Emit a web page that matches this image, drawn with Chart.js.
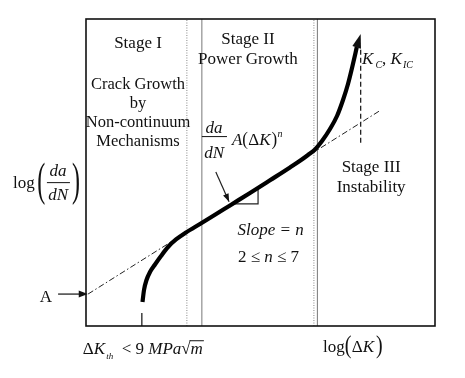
<!DOCTYPE html>
<html><head><meta charset="utf-8">
<script src="https://cdn.jsdelivr.net/npm/chart.js@4.4.1/dist/chart.umd.min.js"></script>
<style>html,body{margin:0;padding:0;background:#fff}#wrap{width:465px;height:378px;position:relative}</style>
</head><body><div id="wrap"><canvas id="c"></canvas></div>
<script>
// ---- data (arbitrary log units: x = log(ΔK), y = log(da/dN)) ----
const curveX = [1.619,1.662,1.734,1.834,1.977,2.149,2.350,2.579,2.865,3.266,3.696,4.126,4.699,5.272,5.845,6.132,6.361,6.562,6.762,6.991,7.192,7.364,7.507,7.622,7.722,7.759,7.871];
const curveY = [0.782,1.173,1.498,1.759,2.003,2.280,2.573,2.818,3.046,3.322,3.622,3.928,4.332,4.746,5.163,5.381,5.570,5.749,6.026,6.417,6.840,7.362,7.883,8.404,8.893,9.088,9.511];
const powerLawX = [0.06, 8.42];
const powerLawY = [1.042, 7.013];
const stageDottedX = [2.89, 6.53];
const stageSolidX = [3.32, 6.63];
const kcX = [7.87, 7.87];
const kcY = [5.97, 9.10];
const thresholdX = [1.60, 1.60];
const thresholdY = [0, 0.42];
const slopeTriX = [4.21, 4.93, 4.93];
const slopeTriY = [3.98, 3.98, 4.50];
const pointerX = [3.72, 4.10];
const pointerY = [5.02, 4.05];
const aArrowX = [-0.80, 0.05];
const aArrowY = [1.04, 1.04];
const xRange = [0, 10];
const yRange = [0, 10];

const pts = (xs, ys) => xs.map((v, i) => ({x: v, y: ys[i]}));
const R = s => `${s}px "Liberation Serif", "DejaVu Serif", serif`;
const I = s => `italic ${s}px "Liberation Serif", "DejaVu Serif", serif`;

function line(d, extra) {
  return Object.assign({data: d, showLine: true, pointRadius: 0, borderColor: '#111', borderWidth: 1, fill: false}, extra || {});
}

const datasets = [
  line(pts(curveX.slice(0, -1), curveY.slice(0, -1)), {borderWidth: 4.2, cubicInterpolationMode: 'monotone', borderColor: '#000'}),
  line(pts(slopeTriX, slopeTriY), {borderWidth: 1.2, borderColor: '#222'}),
  line(pts(kcX, kcY), {borderWidth: 1.3, borderDash: [5, 3], borderColor: '#222'}),
  line(pts(powerLawX, powerLawY), {borderWidth: 1, borderDash: [6, 2.5, 1.5, 2.5], borderColor: '#222'}),
  line(pts(thresholdX, thresholdY), {borderWidth: 1.3, borderColor: '#222'}),
  line(pts(pointerX, pointerY), {borderWidth: 1.2, borderColor: '#222'})
];
stageSolidX.forEach(v => datasets.push(line(pts([v, v], yRange), {borderWidth: 1, borderColor: '#777'})));
stageDottedX.forEach(v => datasets.push(line(pts([v, v], yRange), {borderWidth: 1, borderDash: [1, 1.5], borderColor: '#888'})));

function arrowHead(ctx, x0, y0, x1, y1, len, half) {
  const a = Math.atan2(y1 - y0, x1 - x0);
  ctx.beginPath();
  ctx.moveTo(x1, y1);
  ctx.lineTo(x1 - len * Math.cos(a) + half * Math.sin(a), y1 - len * Math.sin(a) - half * Math.cos(a));
  ctx.lineTo(x1 - len * Math.cos(a) - half * Math.sin(a), y1 - len * Math.sin(a) + half * Math.cos(a));
  ctx.closePath();
  ctx.fill();
}
function runs(ctx, x0, y0, parts) {
  let x = x0;
  for (const p of parts) {
    ctx.font = p.f;
    x += (p.dx || 0);
    ctx.fillText(p.t, x, y0 + (p.dy || 0));
    x += ctx.measureText(p.t).width;
  }
  return x;
}
function paren(ctx, ch, px, midY, F, s) {
  ctx.save();
  ctx.translate(px, midY);
  ctx.scale(1, s);
  ctx.font = R(F);
  ctx.textAlign = 'left';
  ctx.fillText(ch, 0, 0.235 * F);
  ctx.restore();
}

const annot = {
  id: 'annot',
  afterDatasetsDraw(chart) {
    const {ctx, chartArea: a, scales: {x, y}} = chart;
    const X = v => x.getPixelForValue(v), Y = v => y.getPixelForValue(v);
    ctx.save();
    ctx.fillStyle = '#111';
    ctx.strokeStyle = '#111';
    // frame
    ctx.lineWidth = 1.6;
    ctx.strokeRect(a.left, a.top, a.right - a.left, a.bottom - a.top);
    // arrow heads
    const n = curveX.length;
    arrowHead(ctx, X(curveX[n - 2]), Y(curveY[n - 2]), X(curveX[n - 1]), Y(curveY[n - 1]), 14, 4.5);
    arrowHead(ctx, X(pointerX[0]), Y(pointerY[0]), X(pointerX[1]), Y(pointerY[1]), 8, 3);
    ctx.lineWidth = 1.2;
    ctx.beginPath(); ctx.moveTo(X(aArrowX[0]), Y(aArrowY[0])); ctx.lineTo(X(aArrowX[1]) - 6, Y(aArrowY[1])); ctx.stroke();
    arrowHead(ctx, X(aArrowX[0]), Y(aArrowY[0]), X(aArrowX[1]), Y(aArrowY[1]), 9, 3.5);

    ctx.textBaseline = 'alphabetic';
    // Stage I
    ctx.textAlign = 'center';
    ctx.font = R(17);
    ctx.fillText('Stage I', X(1.49), Y(9.04));
    ctx.font = R(16.5);
    ctx.fillText('Crack Growth', X(1.49), Y(7.73));
    ctx.fillText('by', X(1.49), Y(7.11));
    ctx.fillText('Non-continuum', X(1.49), Y(6.49));
    ctx.fillText('Mechanisms', X(1.49), Y(5.87));
    // Stage II
    ctx.font = R(17);
    ctx.fillText('Stage II', X(4.64), Y(9.20));
    ctx.fillText('Power Growth', X(4.64), Y(8.55));
    // Stage III
    ctx.fillText('Stage III', X(8.17), Y(5.03));
    ctx.fillText('Instability', X(8.17), Y(4.36));
    // Slope
    ctx.font = I(17);
    ctx.fillText('Slope = n', X(5.29), Y(2.95));
    ctx.textAlign = 'left';
    {
      const parts = [{t: '2 ≤ ', f: R(17)}, {t: 'n', f: I(17)}, {t: ' ≤ 7', f: R(17)}];
      let w = 0; parts.forEach(p => { ctx.font = p.f; w += ctx.measureText(p.t).width; });
      runs(ctx, X(5.23) - w / 2, Y(2.10), parts);
    }
    // Stage II formula
    ctx.textAlign = 'center';
    ctx.font = I(17);
    ctx.fillText('da', X(3.67), Y(6.29));
    ctx.fillText('dN', X(3.67), Y(5.47));
    ctx.lineWidth = 1;
    ctx.beginPath(); ctx.moveTo(X(3.32), Y(6.17)); ctx.lineTo(X(4.04), Y(6.17)); ctx.stroke();
    ctx.textAlign = 'left';
    {
      let px = runs(ctx, X(4.18), Y(5.88), [{t: 'A', f: I(17)}]);
      paren(ctx, '(', px, Y(5.88) - 5, 17, 1.15);
      px += 6;
      px = runs(ctx, px, Y(5.88), [{t: 'Δ', f: R(17)}, {t: 'K', f: I(17)}]);
      paren(ctx, ')', px + 1, Y(5.88) - 5, 17, 1.15);
      px += 7;
      runs(ctx, px, Y(5.88) - 8, [{t: 'n', f: I(10)}]);
    }
    // Kc, KIC
    runs(ctx, X(7.91), Y(8.54), [{t: 'K', f: I(17)}, {t: 'C', f: I(10), dx: 2, dy: 4}, {t: ', ', f: R(17)},
      {t: 'K', f: I(17)}, {t: 'IC', f: I(10), dx: 1, dy: 4}]);
    // left axis label
    runs(ctx, X(-2.09), Y(4.50), [{t: 'log', f: R(17)}]);
    paren(ctx, '(', X(-1.40), Y(4.62), 24, 1.97);
    paren(ctx, ')', X(-0.40), Y(4.62), 24, 1.97);
    ctx.textAlign = 'center';
    ctx.font = I(17);
    ctx.fillText('da', X(-0.80), Y(4.87));
    ctx.fillText('dN', X(-0.80), Y(4.09));
    ctx.beginPath(); ctx.moveTo(X(-1.12), Y(4.67)); ctx.lineTo(X(-0.46), Y(4.67)); ctx.stroke();
    ctx.font = R(17);
    ctx.fillText('A', X(-1.15), Y(0.79));
    ctx.textAlign = 'left';
    // threshold label
    {
      const by = Y(-0.92);
      let px = runs(ctx, X(-0.09), by, [{t: 'Δ', f: R(17)}, {t: 'K', f: I(17)}, {t: 'th', f: I(9), dx: 1, dy: 5},
        {t: '  < 9 ', f: R(17)}, {t: 'MPa', f: I(17)}]);
      ctx.font = R(17);
      ctx.fillText('√', px, by);
      const sw = ctx.measureText('√').width;
      const mx = px + sw;
      ctx.font = I(17);
      ctx.fillText('m', mx, by);
      const mw = ctx.measureText('m').width;
      ctx.lineWidth = 1;
      ctx.beginPath(); ctx.moveTo(mx - 1, by - 13.5); ctx.lineTo(mx + mw + 1, by - 13.5); ctx.stroke();
    }
    // log(ΔK)
    {
      const by = Y(-0.84);
      let px = runs(ctx, X(6.79), by, [{t: 'log', f: R(17)}]);
      paren(ctx, '(', px, by - 5, 20, 1.25);
      px += 7;
      px = runs(ctx, px, by, [{t: 'Δ', f: R(17)}, {t: 'K', f: I(17)}]);
      paren(ctx, ')', px + 2, by - 5, 20, 1.25);
    }
    ctx.restore();
  }
};

new Chart(document.getElementById('c'), {
  type: 'scatter',
  data: {datasets},
  options: {
    responsive: true,
    maintainAspectRatio: false,
    animation: false,
    layout: {padding: {left: 86, right: 30, top: 19, bottom: 52}},
    plugins: {legend: {display: false}, tooltip: {enabled: false}},
    scales: {
      x: {type: 'linear', min: xRange[0], max: xRange[1], display: false},
      y: {type: 'linear', min: yRange[0], max: yRange[1], display: false}
    }
  },
  plugins: [annot]
});
</script>
</body></html>
